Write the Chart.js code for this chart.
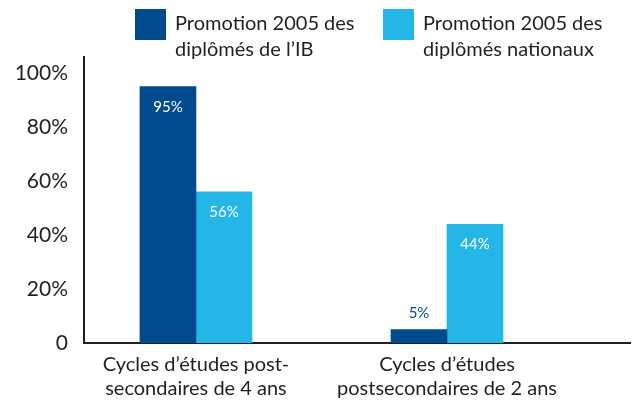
<!DOCTYPE html>
<html>
<head>
<meta charset="utf-8">
<script src="https://cdn.jsdelivr.net/npm/chart.js@4"></script>
<style>
body { margin: 0; background: #fff; }
#wrap { position: relative; width: 638px; height: 400px; }
#legend .item { position: absolute; top: 9px; font-family: Lato, sans-serif; font-size: 20px; line-height: 26px; color: #231f20; }
#legend .item:nth-child(1) { left: 135px; }
#legend .item:nth-child(2) { left: 383px; }
#legend .box { position: absolute; left: 0; top: 0; width: 31px; height: 31px; }
#legend .txt { margin-left: 40px; white-space: nowrap; }
</style>
</head>
<body>
<div id="wrap">
  <canvas id="chart" width="638" height="400"></canvas>
  <div id="legend"></div>
</div>
<script>
// Data
const categories = [
    ["Cycles d’études post-", "secondaires de 4 ans"],
    ["Cycles d’études", "postsecondaires de 2 ans"]
];
const seriesNames = [
    ["Promotion 2005 des", "diplômés de l’IB"],
    ["Promotion 2005 des", "diplômés nationaux"]
];
const ibValues = [95, 5];
const nationalValues = [56, 44];
const yTicks = [0, 20, 40, 60, 80, 100];
const yTickLabels = ["0", "20%", "40%", "60%", "80%", "100%"];

const colors = ["#004b8d", "#25b6e8"];
const textColor = "#231f20";

// Legend (HTML, multi-line)
const legend = document.getElementById("legend");
seriesNames.forEach((name, i) => {
    let item = document.createElement("div");
    item.className = "item";
    item.innerHTML = '<div class="box" style="background:' + colors[i] + '"></div><div class="txt">' + name.join("<br>") + '</div>';
    legend.appendChild(item);
});

// Value labels on the bars
const barLabels = {
    id: "barLabels",
    afterDatasetsDraw(chart) {
        const ctx = chart.ctx;
        ctx.save();
        ctx.font = "15px Lato";
        ctx.textAlign = "center";
        ctx.textBaseline = "middle";
        chart.data.datasets.forEach((ds, i) => {
            chart.getDatasetMeta(i).data.forEach((bar, j) => {
                let v = ds.data[j].y;
                if (v > 20) {
                    ctx.fillStyle = "#fff";
                    ctx.fillText(v + "%", bar.x, bar.y + 20);
                } else {
                    ctx.fillStyle = ds.backgroundColor;
                    ctx.fillText(v + "%", bar.x, bar.y - 16);
                }
            });
        });
        ctx.restore();
    }
};

const toPoints = (vals) => vals.map((v, i) => ({ x: i + 1, y: v }));

new Chart(document.getElementById("chart"), {
    type: "bar",
    data: {
        datasets: [
            { label: seriesNames[0].join(" "), data: toPoints(ibValues), backgroundColor: colors[0], barThickness: 56 },
            { label: seriesNames[1].join(" "), data: toPoints(nationalValues), backgroundColor: colors[1], barThickness: 56 }
        ]
    },
    options: {
        responsive: false,
        animation: false,
        layout: { padding: { top: 57, right: 8, left: 0, bottom: 0 } },
        plugins: { legend: { display: false }, tooltip: { enabled: false } },
        scales: {
            x: {
                type: "linear",
                offset: false,
                min: 0.554,
                max: 2.729,
                grid: { display: false, offset: false },
                border: { display: true, color: textColor, width: 2 },
                afterBuildTicks: (scale) => { scale.ticks = categories.map((c, i) => ({ value: i + 1 })); },
                afterFit: (scale) => { scale.height = 57; },
                ticks: {
                    autoSkip: false,
                    maxRotation: 0,
                    padding: 2,
                    color: textColor,
                    font: { family: "Lato", size: 20, lineHeight: 1.2 },
                    callback: (v) => categories[v - 1]
                }
            },
            y: {
                min: 0,
                max: 106,
                grid: { display: false },
                border: { display: true, color: textColor, width: 2 },
                afterBuildTicks: (scale) => { scale.ticks = yTicks.map((v) => ({ value: v })); },
                afterFit: (scale) => { scale.width = 84; },
                ticks: {
                    padding: 8,
                    color: textColor,
                    font: { family: "Lato", size: 21 },
                    callback: (v) => yTickLabels[yTicks.indexOf(v)]
                }
            }
        }
    },
    plugins: [barLabels]
});
</script>
</body>
</html>
